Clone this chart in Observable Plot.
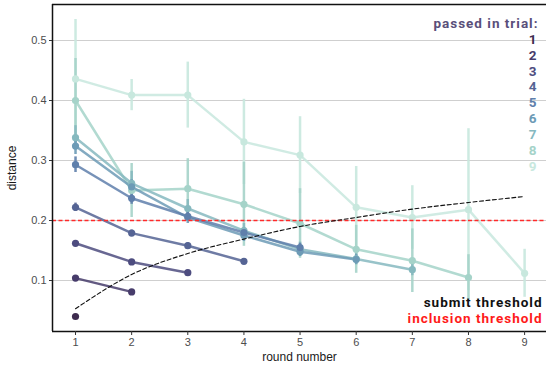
<!DOCTYPE html>
<html>
<head>
<meta charset="utf-8">
<script src="https://cdn.jsdelivr.net/npm/d3@7"></script>
<script src="https://cdn.jsdelivr.net/npm/@observablehq/plot@0.6"></script>
<style>
  html, body { margin: 0; padding: 0; background: #fff; }
  #chart svg { display: block; }
  #chart svg g.wide text { letter-spacing: 1px; }
</style>
</head>
<body>
<div id="chart"></div>
<script>
// ---- data ----
const rounds = [1, 2, 3, 4, 5, 6, 7, 8, 9];
const yTicks = [0.1, 0.2, 0.3, 0.4, 0.5];
const trialLabels = ["1", "2", "3", "4", "5", "6", "7", "8", "9"];

// mean distance per round, one array per "passed in trial" group
const trial1 = [0.040];
const trial2 = [0.104, 0.081];
const trial3 = [0.162, 0.131, 0.113];
const trial4 = [0.222, 0.179, 0.158, 0.132];
const trial5 = [0.293, 0.237, 0.207, 0.180, 0.155];
const trial6 = [0.324, 0.256, 0.205, 0.175, 0.148, 0.135];
const trial7 = [0.338, 0.262, 0.220, 0.183, 0.152, 0.136, 0.118];
const trial8 = [0.400, 0.250, 0.253, 0.227, 0.195, 0.152, 0.133, 0.105];
const trial9 = [0.436, 0.409, 0.409, 0.331, 0.309, 0.222, 0.205, 0.218, 0.112];

// error bar half-widths
const err1 = [0.003];
const err2 = [0.004, 0.004];
const err3 = [0.004, 0.004, 0.004];
const err4 = [0.007, 0.005, 0.005, 0.004];
const err5 = [0.013, 0.010, 0.008, 0.008, 0.007];
const err6 = [0.014, 0.012, 0.010, 0.010, 0.008, 0.008];
const err7 = [0.020, 0.020, 0.015, 0.012, 0.012, 0.010, 0.010];
const err8 = [0.070, 0.045, 0.050, 0.070, 0.058, 0.040, 0.053, 0.038];
const err9 = [0.099, 0.026, 0.055, 0.071, 0.064, 0.068, 0.053, 0.135, 0.040];

// submit threshold (dashed black curve) read at each round
const submitThreshold = [0.053, 0.110, 0.145, 0.169, 0.190, 0.205, 0.219, 0.230, 0.240];
const inclusionThreshold = [0.2];

const colors = ["#3e2c4f", "#473c6b", "#4d4c7f", "#556494", "#5f7fab", "#6d9bb6", "#86b9bf", "#a5d3c9", "#c8e8de"];
const titleColor = "#5a4f7a";

const xDomain = [0.59, 9.39];
const yDomain = [0.015, 0.56];

// ---- build table ----
const means = [trial1, trial2, trial3, trial4, trial5, trial6, trial7, trial8, trial9];
const errs = [err1, err2, err3, err4, err5, err6, err7, err8, err9];
const rows = [];
means.forEach((arr, t) => {
  arr.forEach((m, i) => {
    rows.push({trial: trialLabels[t], round: rounds[i], mean: m, lo: m - errs[t][i], hi: m + errs[t][i]});
  });
});
// draw light groups first, dark groups on top
rows.sort((a, b) => d3.descending(+a.trial, +b.trial));
const curve = rounds.map((r, i) => ({round: r, v: submitThreshold[i]}));

const font = "'Liberation Sans', Arial, sans-serif";
const boldFont = "Roboto, 'Liberation Sans', sans-serif";

const legendMarks = trialLabels.map((lab, i) =>
  Plot.text([lab], {
    text: d => d, frameAnchor: "top-right", lineAnchor: "middle",
    dx: -10, dy: 35 + 15.85 * i,
    fill: colors[i], fontSize: 13.5, fontWeight: "bold", fontFamily: boldFont
  })
);

const chart = Plot.plot({
  width: 546,
  height: 367,
  marginLeft: 52,
  marginRight: 0,
  marginTop: 4,
  marginBottom: 36,
  style: {fontFamily: font, fontSize: "11px", background: "#fff", overflow: "visible"},
  x: {domain: xDomain, label: null},
  y: {domain: yDomain, label: null},
  color: {domain: trialLabels, range: colors},
  marks: [
    Plot.gridY(yTicks, {stroke: "#cfcfcf", strokeOpacity: 1, strokeWidth: 1.2}),
    Plot.ruleX(rows, {x: "round", y1: "lo", y2: "hi", stroke: "trial", strokeWidth: 2.5, strokeOpacity: 0.9}),
    Plot.line(rows, {x: "round", y: "mean", z: "trial", stroke: "trial", strokeWidth: 2.5, strokeOpacity: 0.85}),
    Plot.dot(rows, {x: "round", y: "mean", fill: "trial", r: 3.6, stroke: "none"}),
    Plot.ruleY(inclusionThreshold, {stroke: "#ff2a2a", strokeWidth: 1.4, strokeDasharray: "4,2.5"}),
    Plot.line(curve, {x: "round", y: "v", curve: "monotone-x", stroke: "#111", strokeWidth: 1.1, strokeDasharray: "4,2.5"}),
    Plot.text(["passed in trial:"], {
      text: d => d, frameAnchor: "top-right", lineAnchor: "middle", dx: -8, dy: 19,
      fill: titleColor, fontSize: 13.5, fontWeight: "bold", fontFamily: boldFont, className: "wide"
    }),
    ...legendMarks,
    Plot.text(["submit threshold"], {
      text: d => d, frameAnchor: "bottom-right", lineAnchor: "middle", dx: -4, dy: -28.5,
      fill: "#111", fontSize: 13.5, fontWeight: "bold", fontFamily: boldFont, className: "wide"
    }),
    Plot.text(["inclusion threshold"], {
      text: d => d, frameAnchor: "bottom-right", lineAnchor: "middle", dx: -4, dy: -12.5,
      fill: "#ff1a1a", fontSize: 13.5, fontWeight: "bold", fontFamily: boldFont, className: "wide"
    }),
    Plot.ruleY([yDomain[1]], {stroke: "#111", strokeWidth: 1.5}),
    Plot.ruleY([yDomain[0]], {stroke: "#111", strokeWidth: 1.5}),
    Plot.ruleX([xDomain[0]], {stroke: "#111", strokeWidth: 1.5}),
    Plot.axisY(yTicks, {tickSize: 3, tickPadding: 3, stroke: "#333", color: "#4d4d4d", fontSize: 11,
      tickFormat: d => String(d), label: null}),
    Plot.axisX(rounds, {tickSize: 4, tickPadding: 3, stroke: "#333", color: "#4d4d4d", fontSize: 11,
      tickFormat: d => String(d), label: null}),
    // axis titles
    Plot.text(["round number"], {text: d => d, frameAnchor: "bottom", lineAnchor: "middle", dy: 26,
      fill: "#1a1a1a", fontSize: 12, fontFamily: font}),
    Plot.text(["distance"], {text: d => d, frameAnchor: "left", lineAnchor: "middle", rotate: -90, dx: -40,
      fill: "#1a1a1a", fontSize: 12, fontFamily: font, textAnchor: "middle"})
  ]
});
document.getElementById("chart").appendChild(chart);
</script>
</body>
</html>
